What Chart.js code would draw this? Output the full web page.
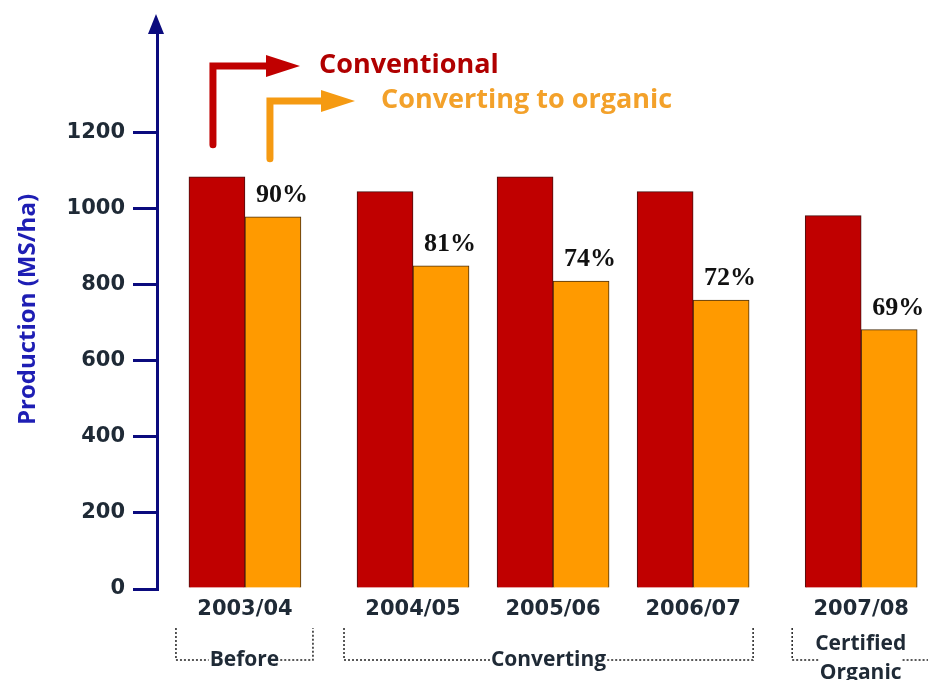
<!DOCTYPE html>
<html>
<head>
<meta charset="utf-8">
<script src="https://cdn.jsdelivr.net/npm/chart.js@4/dist/chart.umd.min.js"></script>
<style>
  html, body { margin: 0; padding: 0; background: #fff; }
  #wrap { width: 928px; height: 680px; position: relative; }
</style>
</head>
<body>
<div id="wrap"><canvas id="myChart"></canvas></div>
<script>
// data
const categories = ['2003/04', '2004/05', '2005/06', '2006/07', '2007/08'];
const conventional = [1084, 1045, 1084, 1045, 982];
const converting = [979, 850, 810, 760, 682];
const pctLabels = ['90%', '81%', '74%', '72%', '69%'];
const yTicks = [0, 200, 400, 600, 800, 1000, 1200];
const phaseNames = [['Before'], ['Converting'], ['Certified', 'Organic']];
const phaseFrom = [0, 1, 4];
const phaseTo = [0, 3, 4];

// layout: groups are not evenly spaced in the original
const slotX = [0, 6, 11, 16, 22];

const RED = '#c00000';
const ORANGE = '#ff9a00';
const NAVY = '#0b0b7e';
const TEXT = '#1f2a36';

const toPoints = (vals) => vals.map((v, i) => ({ x: slotX[i], y: v }));

const extras = {
  id: 'extras',
  afterDatasetsDraw(chart) {
    const ctx = chart.ctx;
    const area = chart.chartArea;
    const xs = chart.scales.x;
    const redMeta = chart.getDatasetMeta(0);
    const orMeta = chart.getDatasetMeta(1);

    ctx.save();
    // percentage labels over orange bars
    ctx.font = 'bold 26px "Liberation Serif"';
    ctx.fillStyle = '#111';
    ctx.textAlign = 'center';
    ctx.textBaseline = 'alphabetic';
    orMeta.data.forEach((el, i) => {
      ctx.fillText(pctLabels[i], el.x + 9, el.y - 15);
    });

    // y axis arrow head
    const ax = area.left - 1;
    ctx.fillStyle = NAVY;
    ctx.beginPath();
    ctx.moveTo(ax, 14);
    ctx.lineTo(ax - 8, 34);
    ctx.lineTo(ax + 8, 34);
    ctx.closePath();
    ctx.fill();
    ctx.strokeStyle = NAVY;
    ctx.lineWidth = 3;
    ctx.beginPath();
    ctx.moveTo(ax, 30);
    ctx.lineTo(ax, area.top + 2);
    ctx.stroke();

    // legend arrows
    const drawArrow = (x, yBottom, yTop, tipX, color) => {
      ctx.strokeStyle = color;
      ctx.fillStyle = color;
      ctx.lineWidth = 7;
      ctx.lineCap = 'round';
      ctx.beginPath();
      ctx.moveTo(x, yBottom);
      ctx.lineTo(x, yTop);
      ctx.lineTo(tipX - 30, yTop);
      ctx.stroke();
      ctx.beginPath();
      ctx.moveTo(tipX, yTop);
      ctx.lineTo(tipX - 34, yTop - 11);
      ctx.lineTo(tipX - 34, yTop + 11);
      ctx.closePath();
      ctx.fill();
    };
    const r0 = redMeta.data[0];
    const o0 = orMeta.data[0];
    drawArrow(r0.x - 4, r0.y - 32, 66, 300, RED);
    drawArrow(o0.x - 3, o0.y - 58, 101, 355, '#f59a12');

    ctx.font = 'bold 27px "Open Sans"';
    ctx.textAlign = 'left';
    ctx.textBaseline = 'middle';
    ctx.fillStyle = '#b00000';
    ctx.fillText(chart.data.datasets[0].label, 319, 65);
    ctx.fillStyle = '#f3a12a';
    ctx.fillText(chart.data.datasets[1].label, 381, 100);

    // phase brackets under the year labels
    ctx.font = 'bold 21px "Open Sans"';
    ctx.fillStyle = TEXT;
    ctx.strokeStyle = '#222';
    ctx.lineWidth = 1.5;
    ctx.lineCap = 'butt';
    ctx.setLineDash([2, 2]);
    const yTop = 628, yLine = 660;
    phaseNames.forEach((lines, k) => {
      const left = xs.getPixelForValue(slotX[phaseFrom[k]]) - 69;
      const right = xs.getPixelForValue(slotX[phaseTo[k]]) + (k === 1 ? 60 : 68);
      const mid = (left + right) / 2;
      const last = lines[lines.length - 1];
      const w = ctx.measureText(last).width;
      ctx.beginPath();
      ctx.moveTo(left, yTop); ctx.lineTo(left, yLine); ctx.lineTo(mid - w / 2 - 1, yLine);
      ctx.moveTo(mid + w / 2 + 1, yLine); ctx.lineTo(right, yLine); ctx.lineTo(right, yTop);
      ctx.stroke();
      ctx.textAlign = 'center';
      if (lines.length === 1) {
        ctx.fillText(lines[0], mid, yLine);
      } else {
        ctx.fillText(lines[0], mid, 644);
        ctx.fillText(lines[1], mid, 673);
      }
    });
    ctx.restore();
  }
};

new Chart(document.getElementById('myChart'), {
  type: 'bar',
  data: {
    datasets: [{
      label: 'Conventional',
      data: toPoints(conventional),
      backgroundColor: RED,
      borderColor: '#4a1010',
      borderWidth: 1,
      barThickness: 56,
    }, {
      label: 'Converting to organic',
      data: toPoints(converting),
      backgroundColor: ORANGE,
      borderColor: '#4a3010',
      borderWidth: 1,
      barThickness: 56,
    }],
  },
  options: {
    responsive: true,
    maintainAspectRatio: false,
    animation: false,
    layout: { padding: { top: 30, right: 8, left: 0, bottom: 0 } },
    plugins: { legend: { display: false }, tooltip: { enabled: false } },
    scales: {
      x: {
        type: 'linear',
        offset: false,
        min: -3.14,
        max: 24.1,
        grid: { display: false, drawTicks: false },
        border: { display: false },
        afterBuildTicks: (s) => { s.ticks = slotX.map(v => ({ value: v })); },
        afterFit: (s) => { s.height = 91; },
        ticks: {
          padding: 8,
          autoSkip: false,
          maxRotation: 0,
          color: TEXT,
          font: { family: 'DejaVu Sans', weight: 'bold', size: 21 },
          callback: (v, i) => categories[i],
        },
      },
      y: {
        min: 0,
        max: 1470,
        afterBuildTicks: (s) => { s.ticks = yTicks.map(v => ({ value: v })); },
        afterFit: (s) => { s.width = 157; },
        grid: {
          drawOnChartArea: false,
          drawTicks: true,
          tickLength: 24,
          color: NAVY,
          lineWidth: 3,
        },
        border: { display: true, color: NAVY, width: 3 },
        ticks: {
          padding: 8,
          color: TEXT,
          font: { family: 'DejaVu Sans', weight: 'bold', size: 21 },
          callback: (v) => String(v),
        },
        title: {
          display: true,
          text: 'Production (MS/ha)',
          color: '#1e1eb4',
          font: { family: 'Open Sans', weight: 'bold', size: 24 },
          padding: { top: 14, bottom: 0 },
        },
      },
    },
  },
  plugins: [extras],
});
</script>
</body>
</html>
